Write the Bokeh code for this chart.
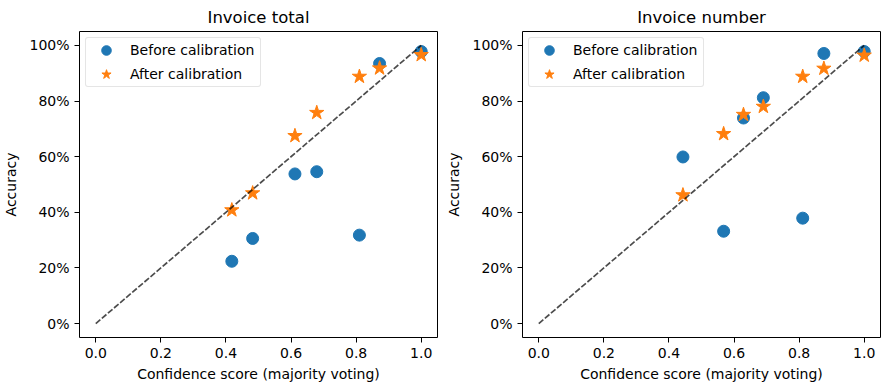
from bokeh.plotting import figure
from bokeh.layouts import row
from bokeh.models import FixedTicker, NumeralTickFormatter, Range1d, Legend, LegendItem
from bokeh.embed import file_html
from bokeh.resources import INLINE

titles = ["Invoice total", "Invoice number"]

total_conf = [0.418, 0.482, 0.612, 0.679, 0.810, 0.872, 1.0]
total_before = [0.224, 0.306, 0.538, 0.546, 0.318, 0.935, 0.978]
total_after = [0.408, 0.469, 0.675, 0.758, 0.888, 0.918, 0.966]

number_conf = [0.443, 0.568, 0.629, 0.690, 0.811, 0.876, 1.0]
number_before = [0.599, 0.332, 0.739, 0.812, 0.379, 0.971, 0.978]
number_after = [0.462, 0.682, 0.751, 0.780, 0.888, 0.917, 0.964]

diag = [0.0, 1.0]
x_ticks = [0.0, 0.2, 0.4, 0.6, 0.8, 1.0]
y_ticks = [0.0, 0.2, 0.4, 0.6, 0.8, 1.0]

FONT = "DejaVu Sans"
BLUE = "#1f77b4"
ORANGE = "#ff7f0e"


def make_panel(title, conf, before, after, left_border, right_border):
    p = figure(frame_width=358, frame_height=306, output_backend="svg",
               toolbar_location=None, title=title,
               x_range=Range1d(-0.05, 1.05), y_range=Range1d(-0.05, 1.05),
               min_border_left=left_border, min_border_right=right_border,
               min_border_top=24, min_border_bottom=46)
    p.title.align = "center"
    p.title.text_font = FONT
    p.title.text_font_size = "16.5px"
    p.title.text_font_style = "normal"
    p.title.text_color = "black"
    p.grid.visible = False
    p.outline_line_color = "black"
    p.outline_line_width = 1
    p.outline_line_alpha = 1
    p.background_fill_color = "white"
    p.border_fill_color = "white"

    for ax in (p.xaxis[0], p.yaxis[0]):
        ax.axis_line_color = None
        ax.major_tick_in = 0
        ax.major_tick_out = 5
        ax.minor_tick_line_color = None
        ax.major_tick_line_color = "black"
        ax.major_label_text_font = FONT
        ax.major_label_text_font_size = "14px"
        ax.major_label_text_color = "black"
        ax.major_label_standoff = 5
        ax.axis_label_text_font = FONT
        ax.axis_label_text_font_size = "14px"
        ax.axis_label_text_font_style = "normal"
        ax.axis_label_text_color = "black"
    p.xaxis.ticker = FixedTicker(ticks=x_ticks)
    p.yaxis.ticker = FixedTicker(ticks=y_ticks)
    p.xaxis.formatter = NumeralTickFormatter(format="0.0")
    p.yaxis.formatter = NumeralTickFormatter(format="0%")
    p.xaxis.axis_label = "Confidence score (majority voting)"
    p.yaxis.axis_label = "Accuracy"
    p.xaxis.axis_label_standoff = 5
    p.yaxis.axis_label_standoff = 7

    r1 = p.scatter(conf, before, marker="circle", size=12, color=BLUE)
    r2 = p.scatter(conf, after, marker="star", size=15, color=ORANGE)
    p.line(diag, diag, line_dash="6 2", line_width=1.7, color="black", alpha=0.7)

    legend = Legend(items=[LegendItem(label="Before calibration", renderers=[r1]),
                           LegendItem(label="After calibration", renderers=[r2])],
                    location="top_left")
    legend.margin = 6
    legend.padding = 0
    legend.spacing = -2
    legend.glyph_width = 40
    legend.glyph_height = 24
    legend.label_standoff = 4
    legend.label_width = 130
    legend.label_text_font = FONT
    legend.label_text_font_size = "14px"
    legend.label_text_color = "black"
    legend.label_height = 20
    legend.border_line_color = "#cccccc"
    legend.border_line_width = 1
    legend.background_fill_alpha = 0.8
    legend.border_radius = 3
    p.add_layout(legend)
    return p


p1 = make_panel(titles[0], total_conf, total_before, total_after, 70, 6)
p2 = make_panel(titles[1], number_conf, number_before, number_after, 70, 2)
layout = row(p1, p2)

open("out.html", "w").write(file_html(layout, INLINE))
